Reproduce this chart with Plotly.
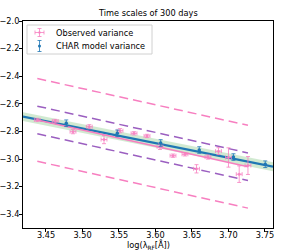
import plotly.graph_objects as go

# ---------------- data ----------------
obs_x = [3.4381, 3.4627, 3.4870, 3.5093, 3.5295, 3.5514, 3.5706, 3.5884, 3.6062,
         3.6240, 3.6404, 3.6562, 3.6719, 3.6863, 3.7000, 3.7147, 3.7267]
obs_y = [-2.717, -2.725, -2.802, -2.766, -2.859, -2.795, -2.814, -2.833, -2.911,
         -2.976, -2.966, -3.071, -2.986, -2.943, -2.989, -3.110, -3.047]
obs_yerr = [0.012, 0.012, 0.015, 0.015, 0.030, 0.015, 0.012, 0.012, 0.020,
            0.012, 0.012, 0.030, 0.015, 0.025, 0.070, 0.060, 0.065]
obs_xerr = [0.004] * len(obs_x)

char_x = [3.4778, 3.5477, 3.6071, 3.6600, 3.7068, 3.7504]
char_y = [-2.741, -2.814, -2.884, -2.935, -2.986, -3.038]
char_yerr = [0.024, 0.024, 0.024, 0.024, 0.024, 0.024]

# fitted lines (end points)
char_fit_x = [3.4185, 3.761]
char_fit_y = [-2.693, -3.056]
char_band_halfwidth = 0.032

obs_fit_x = [3.4381, 3.7267]
obs_fit_y = [-2.717, -3.056]
inner_offset = 0.1
outer_offset = 0.3

x_ticks = [3.45, 3.50, 3.55, 3.60, 3.65, 3.70, 3.75]
y_ticks = [-3.4, -3.2, -3.0, -2.8, -2.6, -2.4, -2.2, -2.0]

title_text = "Time scales of 300 days"
xlabel = "log(λ<sub>RF</sub>[Å])"
legend_labels = ["Observed variance", "CHAR model variance"]

# ---------------- styles ----------------
BLUE = "#1f77b4"
PINK = "#f77fc0"
PINK_ERR = "rgba(247,127,192,0.8)"
BLUE_ERR = "rgba(31,119,180,0.8)"
PURPLE = "#9b5fc0"
GREEN_FILL = "rgba(44,160,44,0.22)"
FONT = "DejaVu Sans"
FS = 8.2

fig = go.Figure()

# confidence band around model fit
upper = [v + char_band_halfwidth for v in char_fit_y]
lower = [v - char_band_halfwidth for v in char_fit_y]
fig.add_trace(go.Scatter(x=char_fit_x, y=upper, mode="lines", line=dict(width=0),
                         showlegend=False, hoverinfo="skip"))
fig.add_trace(go.Scatter(x=char_fit_x, y=lower, mode="lines", line=dict(width=0),
                         fill="tonexty", fillcolor=GREEN_FILL, showlegend=False,
                         hoverinfo="skip"))

# dashed lines around observed fit
for off, col in [(outer_offset, PINK), (-outer_offset, PINK),
                 (inner_offset, PURPLE), (-inner_offset, PURPLE)]:
    fig.add_trace(go.Scatter(x=obs_fit_x, y=[v + off for v in obs_fit_y], mode="lines",
                             line=dict(color=col, width=1.5, dash="9px,5px"),
                             showlegend=False, hoverinfo="skip"))

# model fit line and observed fit line
fig.add_trace(go.Scatter(x=char_fit_x, y=char_fit_y, mode="lines",
                         line=dict(color=BLUE, width=2.2), showlegend=False))
fig.add_trace(go.Scatter(x=obs_fit_x, y=obs_fit_y, mode="lines",
                         line=dict(color=PINK, width=1.5), showlegend=False))

# observed points
fig.add_trace(go.Scatter(
    x=obs_x, y=obs_y, mode="markers", showlegend=False,
    marker=dict(color=PINK_ERR, size=3),
    error_y=dict(type="data", array=obs_yerr, color=PINK_ERR, thickness=1, width=2),
    error_x=dict(type="data", array=obs_xerr, color=PINK_ERR, thickness=1, width=2),
))

# model points
fig.add_trace(go.Scatter(
    x=char_x, y=char_y, mode="markers", showlegend=False,
    marker=dict(color=BLUE, size=3.5),
    error_y=dict(type="data", array=char_yerr, color=BLUE_ERR, thickness=1, width=2),
))

# ---------------- manual legend (paper coords) ----------------
W, H = 293, 250
ML, MR, MT, MB = 23, 20, 21, 22
PW, PH = W - ML - MR, H - MT - MB

def px(x):
    return (x - ML) / PW

def py(y):
    return (H - MB - y) / PH

def seg(x0, y0, x1, y1, col):
    return dict(type="line", xref="paper", yref="paper", x0=px(x0), x1=px(x1),
                y0=py(y0), y1=py(y1), line=dict(color=col, width=1), layer="above")

def dot(cx, cy, r, col):
    return dict(type="circle", xref="paper", yref="paper", x0=px(cx - r), x1=px(cx + r),
                y0=py(cy - r), y1=py(cy + r), line=dict(width=0), fillcolor=col,
                layer="above")

shapes = [dict(type="rect", xref="paper", yref="paper",
               x0=px(27), x1=px(152), y0=py(54), y1=py(25),
               line=dict(color="#d0d0d0", width=1), fillcolor="rgba(255,255,255,0.85)",
               layer="above")]
cx, cy = 39.5, 32.5
shapes += [
    seg(cx - 4.5, cy, cx + 4.5, cy, PINK_ERR),
    seg(cx, cy - 4, cx, cy + 4, PINK_ERR),
    seg(cx - 4.5, cy - 2, cx - 4.5, cy + 2, PINK_ERR),
    seg(cx + 4.5, cy - 2, cx + 4.5, cy + 2, PINK_ERR),
    seg(cx - 2, cy - 4, cx + 2, cy - 4, PINK_ERR),
    seg(cx - 2, cy + 4, cx + 2, cy + 4, PINK_ERR),
    dot(cx, cy, 1.3, PINK_ERR),
]
cx, cy = 39.5, 46
shapes += [
    seg(cx, cy - 5.5, cx, cy + 5.5, BLUE_ERR),
    seg(cx - 2, cy - 5.5, cx + 2, cy - 5.5, BLUE_ERR),
    seg(cx - 2, cy + 5.5, cx + 2, cy + 5.5, BLUE_ERR),
    dot(cx, cy, 1.5, BLUE),
]

annotations = [
    dict(text=legend_labels[0], xref="paper", yref="paper", x=px(54), y=py(32.5),
         xanchor="left", yanchor="middle", showarrow=False,
         font=dict(family=FONT, size=FS, color="black")),
    dict(text=legend_labels[1], xref="paper", yref="paper", x=px(54), y=py(46),
         xanchor="left", yanchor="middle", showarrow=False,
         font=dict(family=FONT, size=FS, color="black")),
    dict(text=title_text, xref="paper", yref="paper", x=0.5, y=1, yanchor="bottom",
         yshift=1, showarrow=False, font=dict(family=FONT, size=FS, color="black")),
    dict(text=xlabel, xref="paper", yref="paper", x=0.5, y=0, yanchor="top",
         yshift=-9, showarrow=False, font=dict(family=FONT, size=FS, color="black")),
]

fig.update_layout(
    width=W, height=H,
    margin=dict(l=ML, r=MR, t=MT, b=MB, pad=0, autoexpand=False),
    paper_bgcolor="white", plot_bgcolor="white",
    font=dict(family=FONT, size=FS, color="black"),
    showlegend=False,
    shapes=shapes,
    annotations=annotations,
    xaxis=dict(range=[3.4185, 3.761], tickvals=x_ticks,
               ticktext=[f"{v:.2f}" for v in x_ticks], automargin=False,
               showgrid=False, zeroline=False, showline=True, linecolor="black",
               linewidth=1, mirror=True, ticks="outside", ticklen=3,
               ticklabelstandoff=-4,
               tickcolor="black", tickfont=dict(family=FONT, size=FS)),
    yaxis=dict(range=[-3.5, -2.0], tickvals=y_ticks, automargin=False,
               ticktext=[f"{v:.1f}".replace("-", "\u2212") for v in y_ticks],
               showgrid=False, zeroline=False, showline=True, linecolor="black",
               linewidth=1, mirror=True, ticks="outside", ticklen=3,
               ticklabelstandoff=-2,
               tickcolor="black", tickfont=dict(family=FONT, size=FS)),
)

fig.write_html("out.html", config={"displayModeBar": False},
               post_script="document.body.style.margin='0px';")
